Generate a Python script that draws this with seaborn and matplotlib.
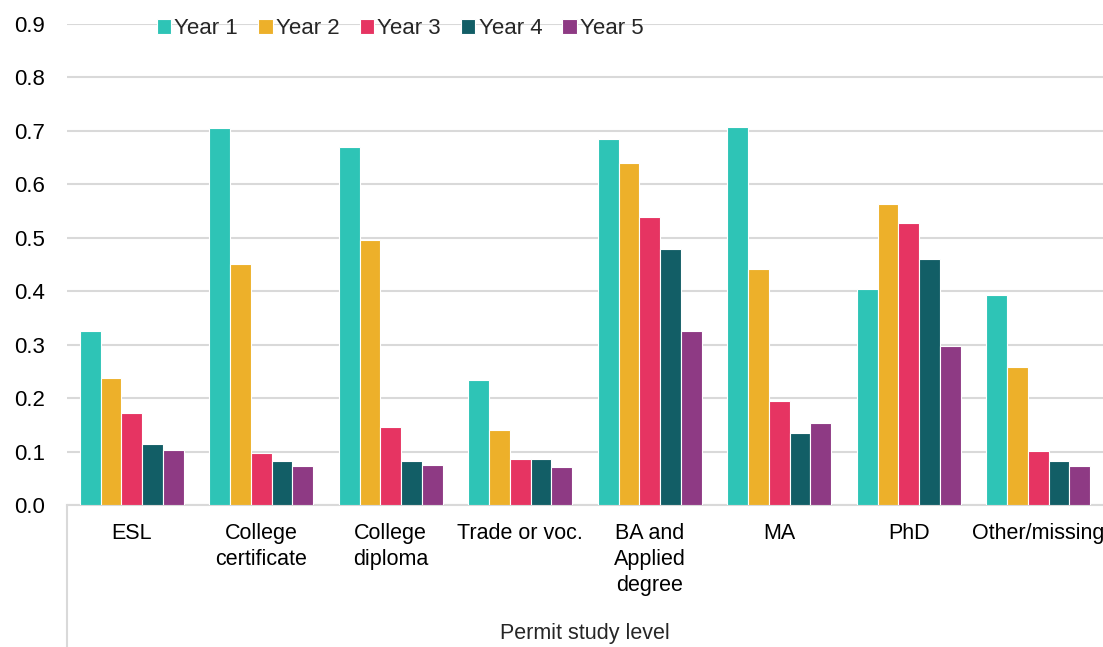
import pandas as pd
import numpy as np
import matplotlib.pyplot as plt
import seaborn as sns

# Data
levels = ["ESL", "College\ncertificate", "College\ndiploma", "Trade or voc.",
          "BA and\nApplied\ndegree", "MA", "PhD", "Other/missing"]
years = ["Year 1", "Year 2", "Year 3", "Year 4", "Year 5"]
year1 = [0.325, 0.705, 0.669, 0.234, 0.684, 0.708, 0.405, 0.392]
year2 = [0.237, 0.451, 0.496, 0.140, 0.639, 0.442, 0.564, 0.259]
year3 = [0.173, 0.097, 0.145, 0.086, 0.539, 0.194, 0.528, 0.101]
year4 = [0.115, 0.082, 0.082, 0.086, 0.478, 0.135, 0.460, 0.082]
year5 = [0.102, 0.072, 0.074, 0.071, 0.326, 0.154, 0.298, 0.073]
colors = ["#2EC4B6", "#EDB02A", "#E63462", "#125E66", "#8E3A84"]

df = pd.DataFrame({"level": levels, "Year 1": year1, "Year 2": year2,
                   "Year 3": year3, "Year 4": year4, "Year 5": year5})
df = df.melt(id_vars="level", var_name="year", value_name="value")

sns.set_theme(style="white")
plt.rcParams['font.family'] = ['Liberation Sans', 'DejaVu Sans']

fig = plt.figure(figsize=(11.03, 6.47), dpi=100)
ax = fig.add_axes([0.0607, 0.2195, 0.9393, 0.7435])

sns.barplot(data=df, x="level", y="value", hue="year", order=levels,
            hue_order=years, palette=colors, width=0.8, saturation=1,
            edgecolor="white", linewidth=0.8, ax=ax, zorder=3)

ax.set_ylim(0, 0.9)
ax.set_xlim(-0.5, len(levels) - 0.5)
ax.set_yticks(np.arange(0, 0.91, 0.1))
ax.set_yticklabels([f"{v:.1f}" for v in np.arange(0, 0.91, 0.1)])
ax.yaxis.grid(True, color="#D9D9D9", linewidth=1.5, zorder=0)
ax.set_axisbelow(True)
for s in ["top", "right", "left"]:
    ax.spines[s].set_visible(False)
ax.spines["bottom"].set_color("#D9D9D9")
ax.spines["bottom"].set_linewidth(1.5)

ax.tick_params(axis="y", labelsize=16, length=0, pad=16, colors="black")
ax.tick_params(axis="x", labelsize=15.5, length=0, pad=13, colors="black")
for lbl in ax.get_xticklabels():
    lbl.set_linespacing(1.3)

ax.set_ylabel("")
ax.set_xlabel("Permit study level", fontsize=15.5, labelpad=20)

# category axis divider line below the plot
ax.plot([0, 0], [0, -0.3], transform=ax.transAxes, color="#D9D9D9",
        linewidth=1.5, clip_on=False)

ax.legend(loc="center left", bbox_to_anchor=(0.078, 0.99), ncol=5,
          frameon=False, fontsize=16, handlelength=0.65, handleheight=0.65,
          handletextpad=0.15, columnspacing=0.9, borderaxespad=0)

fig.savefig("out.png", dpi=100)
